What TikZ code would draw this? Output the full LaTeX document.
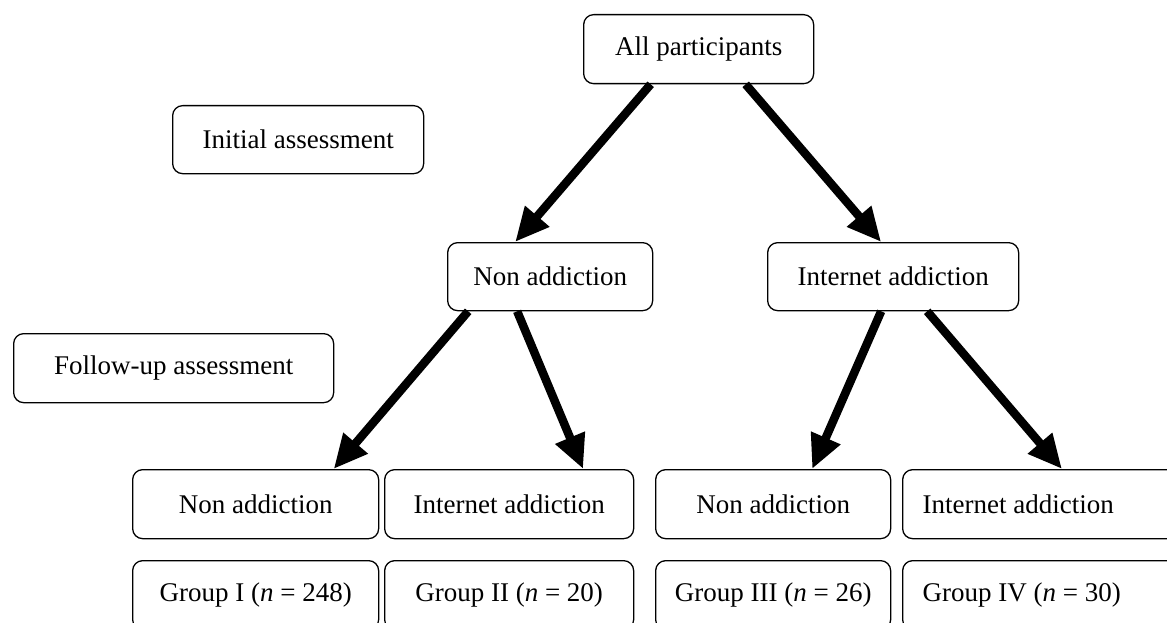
\documentclass[tikz,border=0pt]{standalone}
\usepackage{fontspec}
\setmainfont{Liberation Serif}
\usepackage{tikz}
\usetikzlibrary{arrows.meta,positioning}

\tikzset{
  stagebox/.style={draw,rounded corners=10pt,line width=1.3pt,anchor=north west,
    minimum height=69pt,inner sep=0pt,font=\fontsize{27}{30}\selectfont},
  flow/.style={-{Triangle[length=34pt,width=30pt]},line width=8.5pt}
}

\begin{document}
\begin{tikzpicture}[x=1pt,y=-1pt]
        \clip (0,0) rectangle (1167,623);
        \fill[white] (0,0) rectangle (1167,623);
        % stages
        \node[stagebox,minimum width=230pt] (all) at (583,14) {All participants};
        \node[stagebox,minimum width=251pt,minimum height=68pt] (init) at (172,105) {Initial assessment};
        \node[stagebox,minimum width=320pt] (follow) at (13,333) {Follow-up assessment};
        \node[stagebox,minimum width=205pt,minimum height=68pt] (nonA) at (447,242) {Non addiction};
        \node[stagebox,minimum width=251pt,minimum height=68pt] (netA) at (767,242) {Internet addiction};
        % follow-up outcomes and groups
        \foreach \n/\x/\w/\t/\g in {one/132/246/Non addiction/I (\textit{n} = 248),
                                    two/384/249/Internet addiction/II (\textit{n} = 20),
                                    three/655/235/Non addiction/III (\textit{n} = 26)}{
          \node[stagebox,minimum width=\w pt] (out\n) at (\x,469) {\t};
          \node[stagebox,minimum width=\w pt] (grp\n) at (\x,560) {Group \g};
        }
        \node[stagebox,minimum width=290pt,text width=250pt,align=flush left,inner xsep=20pt] (outfour) at (902,469) {Internet addiction};
        \node[stagebox,minimum width=290pt,text width=250pt,align=flush left,inner xsep=20pt] (grpfour) at (902,560) {Group IV (\textit{n} = 30)};
        % arrows
        \draw[flow] ([xshift=-48pt]all.south) -- ([xshift=-35pt]nonA.north);
        \draw[flow] ([xshift=47pt]all.south) -- ([xshift=-12pt]netA.north);
        \draw[flow] ([xshift=-82pt]nonA.south) -- ([xshift=78pt]outone.north);
        \draw[flow] ([xshift=-33pt]nonA.south) -- ([xshift=74pt]outtwo.north);
        \draw[flow] ([xshift=-12pt]netA.south) -- ([xshift=39pt]outthree.north);
        \draw[flow] ([xshift=34pt]netA.south) -- ([xshift=160pt]outfour.north west);
\end{tikzpicture}
\end{document}
